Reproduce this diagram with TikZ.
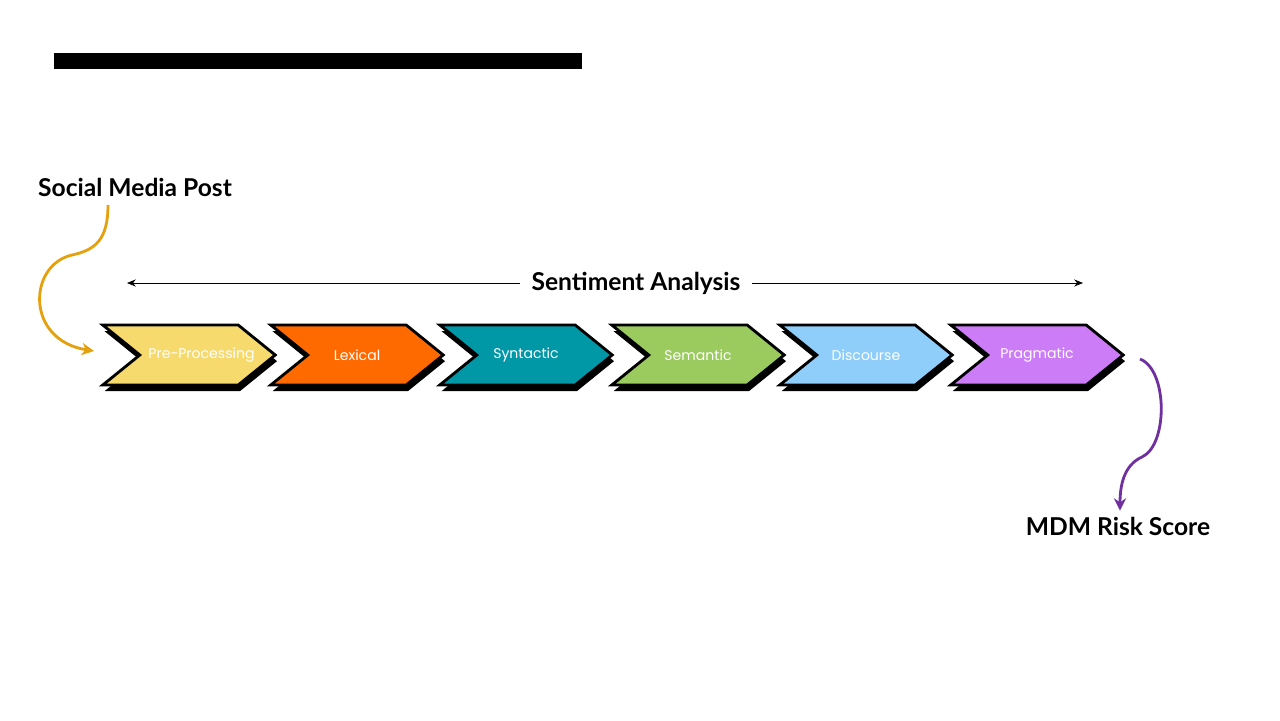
\documentclass[tikz,border=0pt]{standalone}
\usepackage{fontspec}
\setmainfont{Lato}
\newfontfamily\chevfont{Poppins}
\usetikzlibrary{shapes.symbols,shadows,arrows.meta}
\definecolor{preyellow}{RGB}{246,218,110}
\definecolor{lexorange}{RGB}{255,106,0}
\definecolor{synteal}{RGB}{0,151,167}
\definecolor{semgreen}{RGB}{155,202,95}
\definecolor{disblue}{RGB}{143,206,250}
\definecolor{pragpurple}{RGB}{204,124,247}
\definecolor{inorange}{RGB}{229,160,13}
\definecolor{outpurple}{RGB}{112,48,160}
\begin{document}
\begin{tikzpicture}[x=0.02cm, y=-0.02cm,
  chev/.style={signal, signal to=east, signal from=west, signal pointer angle=78,
    draw=black, line width=1.6pt, minimum width=3.45cm, minimum height=1.2cm,
    inner sep=0pt, text=white, font=\chevfont\fontsize{8}{10}\selectfont,
    drop shadow={shadow xshift=1pt, shadow yshift=-3.5pt, fill=black, opacity=1}},
  label/.style={font=\bfseries\fontsize{14}{16}\selectfont},
  flow/.style={line width=1.6pt, -{Stealth[length=7pt, width=7pt]}}]

\useasboundingbox (0,0) rectangle (1280,720);

% Title bar
\fill[black] (54,53) rectangle (582,69);

% Define coordinates
\coordinate (smpOut) at (108,205); % start of the input curve
\coordinate (preIn) at (94,351); % tip of the input arrow
\coordinate (saL) at (127,283); % left end of the span
\coordinate (saR) at (1083,283); % right end of the span
\coordinate (pragOut) at (1140,359); % start of the output curve

% Draw chevrons
\node[chev, fill=preyellow] (pre) at (189,355) {\makebox[0pt]{\hspace{0.5cm}Pre-Processing}};
\node[chev, fill=lexorange] (lex) at (357,355) {Lexical};
\node[chev, fill=synteal] (syn) at (526,355) {Syntactic};
\node[chev, fill=semgreen] (sem) at (698,355) {Semantic};
\node[chev, fill=disblue] (dis) at (866,355) {Discourse};
\node[chev, fill=pragpurple] (prag) at (1037,355) {Pragmatic};

% Labels
\node[label] (smp) at (135,187) {Social Media Post};
\node[label, inner xsep=0.22cm] (sa) at (636,283) {Sentiment Analysis};
\node[label] (mdm) at (1118,526) {MDM Risk Score};

% Sentiment span
\draw[-{Stealth[length=5pt, width=4pt]}] (sa.west) -- (saL);
\draw[-{Stealth[length=5pt, width=4pt]}] (sa.east) -- (saR);

% Input and output curves
\draw[flow, inorange] (smpOut) .. controls (108,240) and (95,250) .. (72,255)
  .. controls (28,265) and (25,340) .. (preIn);
\draw[flow, outpurple] (pragOut) .. controls (1168,370) and (1168,445) .. (1142,457)
  .. controls (1124,465) and (1120,485) .. (mdm.north -| 1120,0);

\end{tikzpicture}
\end{document}
